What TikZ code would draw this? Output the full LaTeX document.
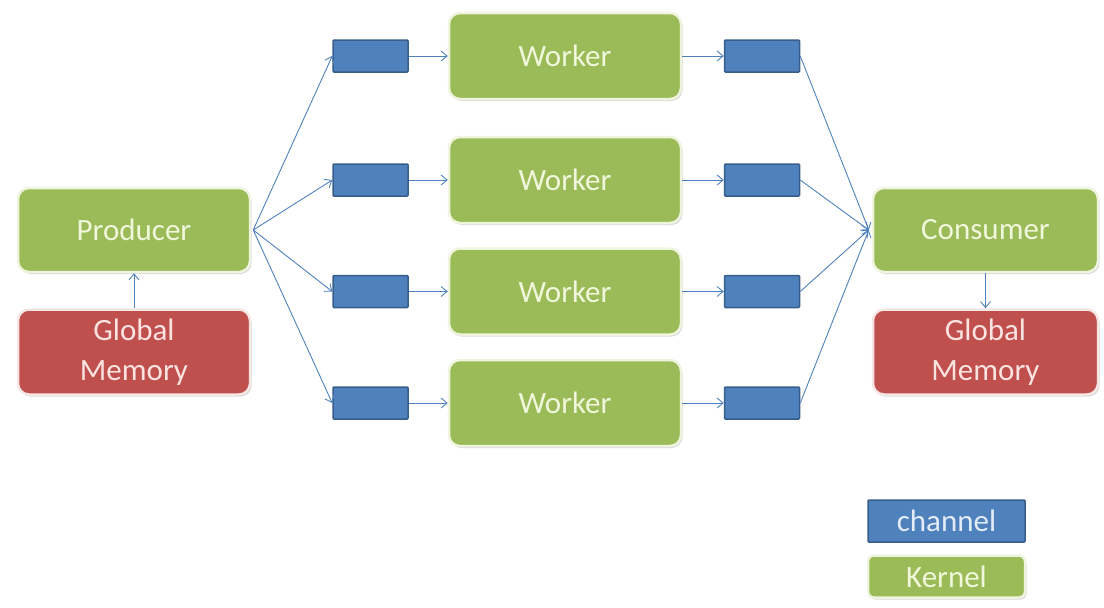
\documentclass[tikz,border=0pt]{standalone}
\usepackage{fontspec}
\setmainfont{Carlito}
\usetikzlibrary{arrows.meta,shadows}
\definecolor{kgreen}{HTML}{9BBB59}
\definecolor{kred}{HTML}{C0504D}
\definecolor{kblue}{HTML}{4F81BD}
\definecolor{kbluedark}{HTML}{385D8A}
\definecolor{kgtext}{HTML}{F0F7DA}
\definecolor{krtext}{HTML}{FBE3E1}
\definecolor{kbtext}{HTML}{E2ECF7}
\definecolor{kedge}{HTML}{EEF4DD}
\definecolor{kredge}{HTML}{F6E6E4}
\tikzset{
  box/.style={rounded corners=11pt, line width=2.5pt, inner sep=0pt, align=center,
    font=\fontsize{31}{40}\selectfont,
    drop shadow={shadow xshift=1.5pt, shadow yshift=-2pt, opacity=0.25, fill=black!60}},
  kernel/.style={box, fill=kgreen, draw=kedge, text=kgtext},
  memory/.style={box, fill=kred, draw=kredge, text=krtext},
  chan/.style={rectangle, fill=kblue, draw=kbluedark, line width=1.5pt, inner sep=0pt,
    minimum width=75pt, minimum height=32pt, rounded corners=1pt},
  legchan/.style={chan, minimum width=157pt, minimum height=42pt, text=kbtext,
    font=\fontsize{31}{40}\selectfont},
  flow/.style={draw=kblue, line width=0.9pt, -{Straight Barb[length=6pt,width=10pt]}},
}
\begin{document}
\begin{tikzpicture}[x=1pt,y=-1pt]
\useasboundingbox (0,0) rectangle (1104,608);
% kernels
\node[kernel, minimum width=232pt, minimum height=84pt] (prod) at (134,230) {Producer};
\node[memory, minimum width=232pt, minimum height=85pt] (gml) at (134,352) {Global\\Memory};
\node[kernel, minimum width=225pt, minimum height=84pt] (cons) at (985.5,230) {Consumer};
\node[memory, minimum width=225pt, minimum height=85pt] (gmr) at (985.5,352) {Global\\Memory};
\foreach \i/\y in {1/56,2/180,3/291.5,4/403}{
  \node[kernel, minimum width=232pt, minimum height=86pt] (w\i) at (565,\y) {Worker};
  \node[chan] (a\i) at (370.5,\y) {};
  \node[chan] (b\i) at (762,\y) {};
}
% legend
\node[legchan] (lc) at (946.5,521) {channel};
\node[kernel, minimum width=157pt, minimum height=42pt, rounded corners=6pt] (lk) at (946.5,576.5) {Kernel};
% connectors
\coordinate (pout) at ([xshift=2pt]prod.east);
\coordinate (cin) at ([xshift=-3pt]cons.west);
\foreach \i in {1,2,3,4}{
  \draw[flow] (pout) -- (a\i.west);
  \draw[flow] (a\i.east) -- (w\i.west);
  \draw[flow] (w\i.east) -- (b\i.west);
  \draw[flow] (b\i.east) -- (cin);
}
\draw[flow] (gml.north) -- (prod.south);
\draw[flow] (cons.south) -- (gmr.north);
\end{tikzpicture}
\end{document}
